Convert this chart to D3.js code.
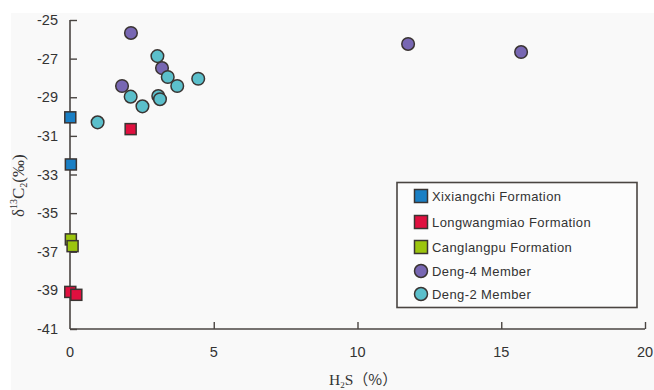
<!DOCTYPE html>
<html>
<head>
<meta charset="utf-8">
<script src="https://cdn.jsdelivr.net/npm/d3@7/dist/d3.min.js"></script>
<style>
  html, body { margin: 0; padding: 0; background: #ffffff; }
  svg { display: block; }
</style>
</head>
<body>
<svg id="chart" width="654" height="390"></svg>
<script>
// H2S content (%) vs. δ13C2 (‰) for each formation / member
const xixiangchiH2S = [0.01, 0.03];
const xixiangchiC2  = [-30.04, -32.48];
const longwangmiaoH2S = [2.11, 0.01, 0.22];
const longwangmiaoC2  = [-30.65, -39.08, -39.23];
const canglangpuH2S = [0.03, 0.09];
const canglangpuC2  = [-36.36, -36.71];
const deng4H2S = [2.12, 1.81, 3.2, 11.76, 15.69];
const deng4C2  = [-25.67, -28.42, -27.49, -26.24, -26.66];
const deng2H2S = [0.96, 2.11, 2.52, 3.04, 3.07, 3.13, 3.4, 3.73, 4.46];
const deng2C2  = [-30.3, -28.97, -29.47, -26.87, -28.94, -29.1, -27.95, -28.42, -28.04];

const xTicks = [0, 5, 10, 15, 20];
const yTicks = [-25, -27, -29, -31, -33, -35, -37, -39, -41];

const seriesNames = ["Xixiangchi Formation", "Longwangmiao Formation", "Canglangpu Formation", "Deng-4 Member", "Deng-2 Member"];
const seriesShapes = ["square", "square", "square", "circle", "circle"];
const seriesColors = ["#1a7fc4", "#e0103f", "#9cc50e", "#7867b3", "#5bbfcb"];
const seriesX = [xixiangchiH2S, longwangmiaoH2S, canglangpuH2S, deng4H2S, deng2H2S];
const seriesY = [xixiangchiC2, longwangmiaoC2, canglangpuC2, deng4C2, deng2C2];

const svg = d3.select("#chart");
const font = "'Liberation Sans', Arial, sans-serif";
const serif = "'Liberation Serif', 'Times New Roman', serif";
const axisColor = "#4a4542";

// panel background
svg.append("rect").attr("x", 11).attr("y", 13).attr("width", 643).attr("height", 377).attr("fill", "#f9f9f9");

const x = d3.scaleLinear().domain([0, 20]).range([70, 645]);
const y = d3.scaleLinear().domain([-41, -25]).range([329, 20]);

// y axis with inward ticks
const yAxis = svg.append("g").attr("transform", `translate(${x(0)},0)`)
  .call(d3.axisRight(y).tickValues(yTicks).tickSize(7).tickFormat(""));
yAxis.select(".domain").attr("stroke", axisColor).attr("stroke-width", 1.6).attr("d", `M0,${y(-25)}V${y(-41)}`);
yAxis.selectAll(".tick line").attr("stroke", axisColor).attr("stroke-width", 1.4);

// x axis with inward ticks
const xAxis = svg.append("g").attr("transform", `translate(0,${y(-41)})`)
  .call(d3.axisTop(x).tickValues(xTicks).tickSize(7).tickFormat(""));
xAxis.select(".domain").attr("stroke", axisColor).attr("stroke-width", 1.6).attr("d", `M${x(0)},0H${x(20)}`);
xAxis.selectAll(".tick line").attr("stroke", axisColor).attr("stroke-width", 1.4);
xAxis.selectAll(".tick").filter(d => d === 0).remove();

// tick labels
svg.append("g").selectAll("text").data(yTicks).join("text")
  .attr("x", 58).attr("y", d => y(d)).attr("dy", "0.35em")
  .attr("text-anchor", "end").attr("font-family", font).attr("font-size", 14.5).attr("fill", "#333")
  .text(d => d);
svg.append("g").selectAll("text").data(xTicks).join("text")
  .attr("x", d => x(d)).attr("y", 357)
  .attr("text-anchor", "middle").attr("font-family", font).attr("font-size", 14.5).attr("fill", "#333")
  .text(d => d);

// axis titles
const xt = svg.append("text").attr("x", 329).attr("y", 385)
  .attr("font-family", serif).attr("font-size", 15.5).attr("fill", "#333");
xt.append("tspan").text("H");
xt.append("tspan").attr("font-size", 9).attr("dy", 3).text("2");
xt.append("tspan").attr("dy", -3).text("S");
xt.append("tspan").attr("font-family", "'Noto Sans CJK SC', sans-serif").attr("font-size", 15).text("（%）");

const yt = svg.append("text").attr("transform", "translate(24,217) rotate(-90)")
  .attr("font-family", serif).attr("font-size", 17).attr("fill", "#333");
yt.append("tspan").text("δ");
yt.append("tspan").attr("font-size", 10).attr("dy", -7).text("13");
yt.append("tspan").attr("dy", 7).text("C");
yt.append("tspan").attr("font-size", 10).attr("dy", 3).text("2");
yt.append("tspan").attr("dy", -3).text("(‰)");

// data points
const pts = svg.append("g");
seriesNames.forEach((name, i) => {
  const data = seriesX[i].map((v, k) => ({ h: v, c: seriesY[i][k] }));
  if (seriesShapes[i] === "circle") {
    pts.append("g").selectAll("circle").data(data).join("circle")
      .attr("cx", d => x(d.h)).attr("cy", d => y(d.c)).attr("r", 6.3)
      .attr("fill", seriesColors[i]).attr("stroke", "#3a3432").attr("stroke-width", 1.5);
  } else {
    pts.append("g").selectAll("rect").data(data).join("rect")
      .attr("x", d => x(d.h) - 5.5).attr("y", d => y(d.c) - 5.5).attr("width", 11).attr("height", 11)
      .attr("fill", seriesColors[i]).attr("stroke", "#3a3432").attr("stroke-width", 1.5);
  }
});

// legend
const lg = svg.append("g");
lg.append("rect").attr("x", 397).attr("y", 182.5).attr("width", 240).attr("height", 125)
  .attr("fill", "#fcfcfc").attr("stroke", "#4a4542").attr("stroke-width", 1.6);
const rowY = [196, 222, 247, 271, 294];
seriesNames.forEach((name, i) => {
  if (seriesShapes[i] === "circle") {
    lg.append("circle").attr("cx", 421).attr("cy", rowY[i]).attr("r", 6.5)
      .attr("fill", seriesColors[i]).attr("stroke", "#3a3432").attr("stroke-width", 1.5);
  } else {
    lg.append("rect").attr("x", 414.5).attr("y", rowY[i] - 6.5).attr("width", 13).attr("height", 13)
      .attr("fill", seriesColors[i]).attr("stroke", "#3a3432").attr("stroke-width", 1.5);
  }
  lg.append("text").attr("x", 432).attr("y", rowY[i]).attr("dy", "0.36em")
    .attr("font-family", font).attr("font-size", 13).attr("letter-spacing", 0.4).attr("fill", "#333")
    .text(name);
});
</script>
</body>
</html>
